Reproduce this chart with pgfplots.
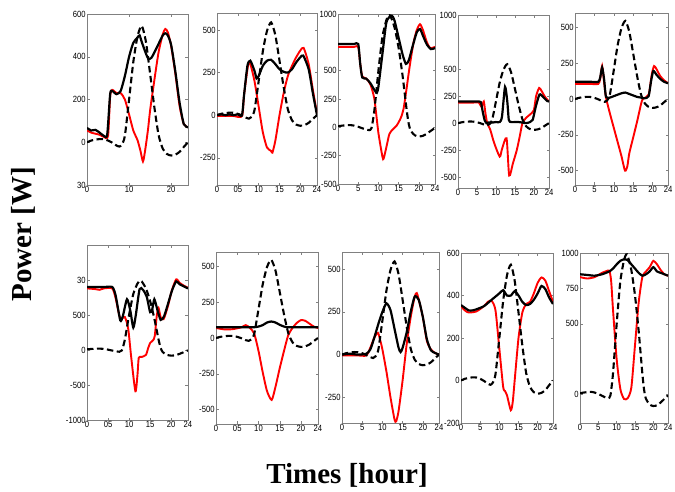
\documentclass[border=0pt]{standalone}
\usepackage{fontspec}
\setmainfont{Liberation Sans}
\newfontfamily\tnr{Liberation Serif}
\usepackage{pgfplots}
\usepackage{pgfplotstable}
\pgfplotsset{compat=1.18}

% shared sun-shaped curve (dashed), two sizes
\pgfplotstableread{
t p
0 0
1 8
2 12
3 15
4 14
5 8
6 -2
7 -15
7.7 -20
8.3 -10
9 30
10 200
11 375
12 495
13 545
14 470
15 320
16 165
17 35
18 -30
19 -55
20 -62
21 -58
22 -45
23 -22
24 0
}\dashA
\pgfplotstableread{
t p
0 10
1 15
2 18
3 20
4 15
5 5
6 -8
7 -20
7.7 -25
8.3 -5
9 150
10 500
11 800
12 950
12.6 990
13 980
14 880
15 700
16 450
17 150
17.5 30
18 -30
19 -70
20 -80
21 -75
22 -55
23 -30
24 -5
}\dashB

\pgfplotsset{
  sub/.style={
    scale only axis, anchor=north west,
    xmin=0, xmax=24,
    tick align=inside, major tick length=2.5pt,
    axis line style={gray},
    every tick/.style={gray, line width=0.5pt},
    tick label style={font=\fontsize{9}{10}\selectfont, xscale=0.85, inner sep=1.5pt},
  },
  xt5/.style={xtick={0,5,10,15,20,24}, xticklabels={0,5,10,15,20,24}},
  xt05/.style={xtick={0,5,10,15,20,24}, xticklabels={0,05,10,15,20,24}},
  redl/.style={red, line width=1.9pt, smooth, tension=0.4},
  blkl/.style={black, line width=2.2pt, smooth, tension=0.4},
  dshl/.style={black, line width=2.1pt, dash pattern=on 6.5pt off 3.5pt, smooth, tension=0.4},
}

\begin{document}
\begin{tikzpicture}
\useasboundingbox (0,0) rectangle (675pt,-491pt);

% ---------- row 1 ----------
\begin{axis}[sub, at={(87pt,-14pt)}, width=101pt, height=171pt,
  ymin=-200, ymax=600, xtick={0,10,20}, xticklabels={0,10,20},
  ytick={-200,0,200,400,600}, yticklabels={30,0,200,400,600}]
\addplot[redl] coordinates {(0,55) (1,45) (2,40) (3,35) (4,25) (5,30) (5.5,215) (6,245) (7,230) (8,230) (9,200) (10,130) (11,55) (12,10) (12.7,-40) (13.3,-90) (13.8,-40) (14.5,60) (15,150) (16,290) (17,420) (18,505) (18.6,530) (19.2,515) (20,450) (21,320) (22,170) (23,85) (24,70)};
\addplot[blkl] coordinates {(0,67) (1,55) (2,58) (3,45) (4,30) (4.8,35) (5.5,225) (6,240) (7,225) (8,240) (9,310) (10,400) (11,465) (12,490) (12.5,500) (13,470) (14,415) (14.6,390) (15.3,395) (16,420) (17,460) (18,500) (18.6,510) (19.2,500) (20,455) (21,330) (22,185) (23,85) (24,70)};
\addplot[dshl] table {\dashA};
\end{axis}

\begin{axis}[sub, xt05, at={(217pt,-13pt)}, width=100pt, height=172pt,
  ymin=-410, ymax=600, ytick={-250,0,250,500}, yticklabels={-250,0,250,500}]
\addplot[redl] coordinates {(0,-5) (2,-5) (4,-5) (6,-5) (6.5,120) (7.5,300) (8,300) (9,200) (10,50) (11,-100) (12,-190) (13,-210) (13.3,-220) (14,-150) (15,0) (16,130) (17,230) (18,290) (19,340) (20,380) (20.8,395) (22,300) (23,150) (24,10)};
\addplot[blkl] coordinates {(0,0) (1,5) (2,0) (3,5) (4,0) (5,5) (6,0) (6.5,120) (7.3,290) (8,320) (9,260) (9.5,215) (10,230) (11,290) (12,320) (13,325) (14,300) (15,270) (16,255) (17,250) (18,270) (19,310) (20,340) (20.7,350) (22,270) (23,130) (24,0)};
\addplot[dshl] table {\dashA};
\end{axis}

\begin{axis}[sub, xt5, at={(338pt,-14pt)}, width=97pt, height=170pt,
  ymin=-500, ymax=1000, ytick={-500,-250,0,250,500,1000}, yticklabels={-500,-250,0,250,500,1000}]
\addplot[redl] coordinates {(0,710) (2,710) (4,710) (5,710) (5.5,560) (6,450) (7,430) (8,380) (9,250) (10,-50) (11,-260) (11.3,-275) (12,-170) (12.7,-60) (13.5,-20) (14.5,15) (15.5,80) (16.2,160) (17,350) (17.4,455) (18,600) (18.7,750) (19.5,860) (20.3,910) (21,860) (22,750) (22.8,700) (24,710)};
\addplot[blkl] coordinates {(0,735) (2,735) (4,735) (5,735) (5.5,560) (6,440) (7,430) (8,390) (9,330) (9.6,305) (10,360) (11,650) (12,930) (13.3,985) (14,940) (15,790) (16,640) (16.8,560) (17.5,590) (18.5,720) (19.5,840) (20.3,868) (21,810) (22,730) (23,690) (24,700)};
\addplot[dshl] table {\dashB};
\end{axis}

\begin{axis}[sub, xt5, at={(458pt,-15pt)}, width=91pt, height=173pt,
  ymin=-600, ymax=1000, ytick={-500,-250,0,250,500,1000}, yticklabels={-500,-250,0,250,500,1000}]
\addplot[redl] coordinates {(0,190) (2,190) (4,190) (5.5,190) (6.2,150) (6.8,200) (7.2,100) (7.7,0) (8.5,-60) (9.5,-180) (11,-310) (11.6,-240) (12.8,-140) (13.5,-485) (14.5,-370) (15.5,-250) (16.3,-120) (17,0) (18,50) (19,80) (20,120) (20.6,250) (21.4,325) (22,300) (23,240) (24,200)};
\addplot[blkl] coordinates {(0,200) (2,200) (4,200) (5,200) (6,195) (6.5,110) (7,30) (7.5,0) (8,5) (9,5) (10,10) (11,10) (11.6,60) (12.4,335) (13,200) (13.4,30) (14,10) (15,10) (16,10) (17,5) (18,0) (19,10) (19.7,30) (20.5,150) (21.5,265) (22.5,240) (23.5,205) (24,200)};
\addplot[dshl] table {\dashA};
\end{axis}

\begin{axis}[sub, xt5, at={(575pt,-13pt)}, width=93pt, height=172pt,
  ymin=-600, ymax=600, ytick={-500,-250,0,250,500}, yticklabels={-500,-250,0,250,500}]
\addplot[redl] coordinates {(0,105) (2,105) (4,105) (6,105) (6.5,140) (7,230) (7.5,120) (8,10) (9,-100) (10,-200) (11,-300) (12,-400) (12.9,-500) (13.5,-470) (14,-380) (15,-270) (16,-160) (17,-40) (17.5,0) (19,30) (19.8,170) (20.4,230) (21,210) (22,160) (23,130) (24,110)};
\addplot[blkl] coordinates {(0,120) (2,120) (4,120) (6,120) (6.5,150) (7,220) (7.5,140) (8,15) (9,10) (10,20) (11,30) (12,40) (13,45) (14,35) (15,25) (16,15) (17,10) (18,5) (19,20) (19.6,120) (20.2,195) (21,170) (22,140) (23,120) (24,110)};
\addplot[dshl] table {\dashA};
\end{axis}

% ---------- row 2 ----------
\begin{axis}[sub, xt05, at={(87pt,-245pt)}, width=101pt, height=175pt,
  ymin=-1000, ymax=1500, ytick={-1000,-500,0,500,1000}, yticklabels={-1000,-500,0,500,30}]
\addplot[redl] coordinates {(0,880) (2,870) (3,860) (4,880) (6,880) (6.8,740) (7.9,450) (9,470) (9.8,300) (10.5,-100) (11.5,-590) (12,-350) (12.3,-110) (13,-100) (14,-70) (14.5,20) (15,100) (15.7,140) (16.1,200) (16.6,500) (17,600) (17.5,470) (18.2,440) (19.2,620) (20.2,860) (21.2,1010) (22,960) (23,920) (24,890)};
\addplot[blkl] coordinates {(0,900) (2,900) (4,900) (6,900) (6.8,780) (7.9,425) (8.5,480) (9.5,725) (10.3,560) (11,320) (11.6,500) (12.5,870) (13.3,860) (14.2,760) (15,540) (15.5,580) (16,725) (16.7,580) (17.5,430) (18.3,480) (19.2,650) (20.2,850) (21.2,980) (22,940) (23,910) (24,880)};
\addplot[dshl] table {\dashB};
\end{axis}

\begin{axis}[sub, xt05, at={(216pt,-252pt)}, width=102pt, height=172pt,
  ymin=-600, ymax=600, ytick={-500,-250,0,250,500}, yticklabels={-500,-250,0,250,500}]
\addplot[redl] coordinates {(0,70) (2,60) (4,62) (6,75) (7,90) (8,70) (9,30) (10,-90) (11,-240) (12,-370) (13.1,-432) (14,-340) (15,-210) (16,-90) (17,20) (18,70) (19,105) (20,125) (21,120) (22,100) (23,80) (24,70)};
\addplot[blkl] coordinates {(0,75) (4,75) (8,75) (9,75) (10,80) (11,90) (12,108) (13,115) (14,108) (15,92) (16,80) (17,75) (20,75) (24,75)};
\addplot[dshl] table {\dashA};
\end{axis}

\begin{axis}[sub, xt5, at={(342pt,-252pt)}, width=97pt, height=171pt,
  ymin=-400, ymax=600, ytick={-250,0,250,500}, yticklabels={-250,0,250,500}]
\addplot[redl] coordinates {(0,-5) (2,-5) (4,-5) (6,-5) (7,40) (8,100) (8.9,127) (9.5,80) (10,30) (11,-100) (12,-250) (13,-380) (13.4,-390) (14,-330) (15,-150) (16,60) (17,220) (18,340) (18.5,360) (19,320) (20,220) (21,80) (22,30) (23,10) (24,0)};
\addplot[blkl] coordinates {(0,0) (2,5) (4,0) (6,5) (7,30) (8,100) (9,180) (10,250) (11,300) (12,260) (13,150) (14,40) (14.5,15) (15,40) (16,130) (17,250) (18,340) (19,320) (20,220) (21,90) (22,25) (23,10) (24,0)};
\addplot[dshl] table {\dashA};
\end{axis}

\begin{axis}[sub, xt5, at={(461pt,-253pt)}, width=92pt, height=170pt,
  ymin=-200, ymax=600, ytick={-200,0,200,400,600}, yticklabels={-200,0,200,400,600}]
\addplot[redl] coordinates {(0,350) (1,330) (2,320) (4,325) (6,350) (7,370) (8,375) (9,330) (10,150) (11,-30) (11.5,-50) (12,-70) (13,-140) (13.5,-100) (14,0) (15,200) (16,320) (17,360) (18,370) (19,410) (20,460) (21,485) (22,470) (23,420) (24,370)};
\addplot[blkl] coordinates {(0,355) (2,330) (3,330) (4,335) (6,350) (8,380) (10,410) (11,425) (12,400) (13,400) (14,420) (15,400) (16,370) (17,355) (18,360) (19,380) (20,410) (21,445) (22,430) (23,390) (24,360)};
\addplot[dshl] table {\dashA};
\end{axis}

\begin{axis}[sub, xt5, at={(580pt,-253pt)}, width=88pt, height=170pt,
  ymin=-200, ymax=1000, ytick={0,500,750,1000}, yticklabels={0,500,750,1000}]
\addplot[redl] coordinates {(0,830) (2,820) (4,830) (6,860) (7,870) (8,875) (8.5,800) (9,600) (10,250) (11,40) (12,-30) (13,-25) (14,50) (15,350) (16,650) (17,830) (18,870) (19,900) (20,945) (21,920) (22,880) (23,850) (24,840)};
\addplot[blkl] coordinates {(0,850) (2,845) (4,840) (6,850) (8,870) (9,890) (10,920) (11,945) (12,955) (13,950) (14,920) (15,890) (16,860) (17,840) (18,850) (19,870) (20,900) (21,870) (22,860) (23,850) (24,840)};
\addplot[dshl] table {\dashB};
\end{axis}

% ---------- shared labels ----------
\node[rotate=90, anchor=center, inner sep=0pt] at (23pt,-234pt)
  {\tnr\bfseries\fontsize{29}{32}\selectfont Power [W]};
\node[anchor=base, inner sep=0pt] at (347pt,-483pt)
  {\tnr\bfseries\fontsize{29}{32}\selectfont Times [hour]};
\end{tikzpicture}
\end{document}
